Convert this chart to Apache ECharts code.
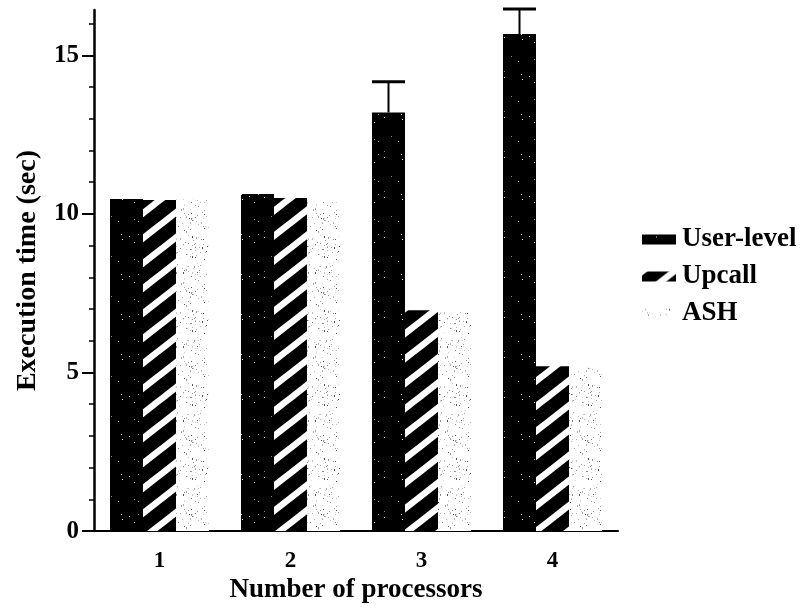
<!DOCTYPE html>
<html>
<head>
<meta charset="utf-8">
<script src="https://cdn.jsdelivr.net/npm/echarts@6/dist/echarts.min.js"></script>
<style>
  html, body { margin: 0; padding: 0; background: #fff; }
  #chart { width: 808px; height: 609px; }
</style>
</head>
<body>
<div id="chart"></div>
<script>
// ---- data ----
const categories = ['1', '2', '3', '4'];
const seriesNames = ['User-level', 'Upcall', 'ASH'];
const userLevel = [10.47, 10.63, 13.2, 15.67];
const upcall = [10.44, 10.5, 6.96, 5.2];
const ash = [10.45, 10.4, 6.9, 5.15];
const userLevelErrTop = [null, null, 14.17, 16.46];
const yMajorTicks = [0, 5, 10, 15];
const yMinorTicks = [0, 1, 2, 3, 4, 5, 6, 7, 8, 9, 10, 11, 12, 13, 14, 15, 16];
const yMax = 16.43;

// ---- textures ----
function makeTile(w, h, draw) {
  const c = document.createElement('canvas');
  c.width = w; c.height = h;
  draw(c.getContext('2d'), w, h);
  return { image: c, repeat: 'repeat' };
}
// deterministic generator for texture speckles (not data)
function lcg(seed) {
  let s = seed >>> 0;
  return function () { s = (s * 1664525 + 1013904223) >>> 0; return s / 4294967296; };
}
const blackFill = makeTile(40, 40, (ctx, w, h) => {
  ctx.fillStyle = '#000'; ctx.fillRect(0, 0, w, h);
  const r = lcg(7);
  ctx.fillStyle = '#fff';
  for (let i = 0; i < 6; i++) ctx.fillRect(Math.floor(r() * w), Math.floor(r() * h), 1, 1);
  ctx.fillStyle = '#888';
  for (let i = 0; i < 5; i++) ctx.fillRect(Math.floor(r() * w), Math.floor(r() * h), 1, 1);
});
const hatchFill = makeTile(32, 25, (ctx, w, h) => {
  ctx.fillStyle = '#000'; ctx.fillRect(0, 0, w, h);
  ctx.strokeStyle = '#fff'; ctx.lineWidth = 6.5; ctx.lineCap = 'butt';
  for (let k = -3; k <= 3; k++) {
    ctx.beginPath();
    ctx.moveTo(-w, 2 * h + h * k);
    ctx.lineTo(2 * w, -h + h * k);
    ctx.stroke();
  }
});
const ashFill = makeTile(66, 74, (ctx, w, h) => {
  ctx.fillStyle = '#fff'; ctx.fillRect(0, 0, w, h);
  const r = lcg(98765);
  const shades = ['#555', '#888', '#999', '#aaa', '#bbb', '#ccc', '#ddd'];
  for (let i = 0; i < 230; i++) {
    ctx.fillStyle = shades[Math.floor(r() * shades.length)];
    const tall = r() < 0.15 ? 2 : 1;
    ctx.fillRect(Math.floor(r() * w), Math.floor(r() * h), 1, tall);
  }
});

const BAR_W = 33;
const serif = '"Liberation Serif", "Times New Roman", serif';

const errData = userLevelErrTop
  .map((top, i) => top == null ? null : [i, userLevel[i], top])
  .filter(d => d);

const chart = echarts.init(document.getElementById('chart'), null, { renderer: 'canvas' });
chart.setOption({
  animation: false,
  backgroundColor: '#fff',
  grid: { left: 94, right: 190, top: 10, bottom: 75, containLabel: false },
  legend: {
    data: seriesNames,
    orient: 'vertical',
    left: 637,
    top: 221,
    itemWidth: 34,
    itemHeight: 10,
    itemGap: 10,
    icon: 'rect',
    selectedMode: false,
    textStyle: {
      fontFamily: serif, fontWeight: 'bold', fontSize: 27, color: '#000',
      lineHeight: 27, padding: [0, 0, 0, 1]
    }
  },
  xAxis: {
    type: 'category',
    data: categories,
    axisLine: { show: true, lineStyle: { color: '#000', width: 2 } },
    axisTick: { show: false },
    axisLabel: { fontFamily: serif, fontWeight: 'bold', fontSize: 23, color: '#000', margin: 18 },
    name: 'Number of processors',
    nameLocation: 'middle',
    nameGap: 40,
    nameTextStyle: { fontFamily: serif, fontWeight: 'bold', fontSize: 27, color: '#000' },
    splitLine: { show: false }
  },
  yAxis: [
    {
      type: 'value',
      min: 0, max: yMax,
      position: 'left',
      axisLine: { show: true, lineStyle: { color: '#000', width: 2.5 } },
      axisTick: { show: true, inside: false, length: 5, customValues: yMinorTicks, lineStyle: { color: '#000', width: 1.5 } },
      axisLabel: { show: false },
      splitLine: { show: false },
      name: 'Execution time (sec)',
      nameLocation: 'middle',
      nameGap: 52,
      nameRotate: 90,
      nameTextStyle: { fontFamily: serif, fontWeight: 'bold', fontSize: 28, color: '#000' }
    },
    {
      type: 'value',
      min: 0, max: yMax,
      position: 'left',
      offset: 0,
      axisLine: { show: false },
      axisTick: { show: true, inside: false, length: 12, customValues: yMajorTicks, lineStyle: { color: '#000', width: 2 } },
      axisLabel: {
        customValues: yMajorTicks, margin: 15,
        fontFamily: serif, fontWeight: 'bold', fontSize: 25, color: '#000'
      },
      splitLine: { show: false }
    }
  ],
  series: [
    {
      name: seriesNames[0], type: 'bar', data: userLevel, barWidth: BAR_W, barGap: '0%',
      itemStyle: { color: blackFill }
    },
    {
      name: seriesNames[1], type: 'bar', data: upcall, barWidth: BAR_W, barGap: '0%',
      itemStyle: { color: hatchFill }
    },
    {
      name: seriesNames[2], type: 'bar', data: ash, barWidth: BAR_W, barGap: '0%',
      itemStyle: { color: ashFill }
    },
    {
      type: 'custom',
      name: 'err',
      data: errData,
      clip: false,
      z: 5,
      renderItem: function (params, api) {
        const cx = api.coord([api.value(0), 0])[0] - BAR_W;
        const yLow = api.coord([api.value(0), api.value(1)])[1];
        const yTop = api.coord([api.value(0), api.value(2)])[1];
        const half = BAR_W / 2;
        return {
          type: 'group',
          children: [
            { type: 'line', shape: { x1: cx, y1: yLow, x2: cx, y2: yTop }, style: { stroke: '#000', lineWidth: 2 } },
            { type: 'line', shape: { x1: cx - half, y1: yTop, x2: cx + half, y2: yTop }, style: { stroke: '#000', lineWidth: 3 } }
          ]
        };
      }
    }
  ]
});
</script>
</body>
</html>
